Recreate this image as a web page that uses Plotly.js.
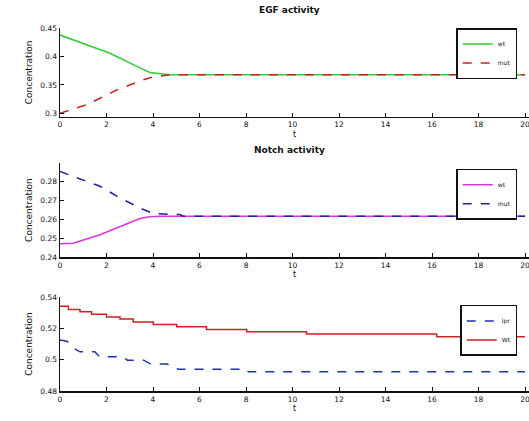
<!DOCTYPE html>
<html><head><meta charset="utf-8">
<script src="https://cdn.plot.ly/plotly-3.0.1.min.js"></script>
<style>html,body{margin:0;padding:0;background:#fff}#c{width:529px;height:421px}</style>
</head><body><div id="c"></div>
<script>
// Panel 1: EGF activity
const egfWtX  = [0, 1.0, 2.15, 3.44, 3.87, 4.73, 20];
const egfWtY  = [0.438, 0.423, 0.406, 0.380, 0.372, 0.368, 0.368];
const egfMutX = [0, 1.15, 2.44, 3.58, 4.01, 4.73, 20];
const egfMutY = [0.300, 0.315, 0.341, 0.359, 0.364, 0.368, 0.368];
// Panel 2: Notch activity
const notchWtX  = [0, 0.57, 1.72, 2.58, 3.44, 3.87, 4.3, 20];
const notchWtY  = [0.2470, 0.2473, 0.2518, 0.2559, 0.2604, 0.2614, 0.2616, 0.2616];
const notchMutX = [0, 0.86, 1.72, 2.58, 3.44, 4.01, 5.16, 5.3, 20];
const notchMutY = [0.2853, 0.2815, 0.2775, 0.2713, 0.2660, 0.2630, 0.2625, 0.2616, 0.2616];
// Panel 3
const p3RedX = [0, 0.36, 0.36, 0.86, 0.86, 1.36, 1.36, 2.0, 2.0, 2.58, 2.58, 3.15, 3.15, 4.01, 4.01, 5.02, 5.02, 6.3, 6.3, 8.03, 8.03, 10.6, 10.6, 16.2, 16.2, 20];
const p3RedY = [0.5341, 0.5341, 0.5320, 0.5320, 0.5305, 0.5305, 0.5290, 0.5290, 0.5273, 0.5273, 0.5259, 0.5259, 0.5241, 0.5241, 0.5225, 0.5225, 0.5210, 0.5210, 0.5193, 0.5193, 0.5178, 0.5178, 0.5163, 0.5163, 0.5146, 0.5146];
const p3BlueX = [0, 0.3, 0.6, 0.86, 1.5, 1.7, 2.7, 2.9, 3.6, 3.9, 4.6, 5.1, 8.03, 8.1, 20];
const p3BlueY = [0.5125, 0.5118, 0.5072, 0.5050, 0.5050, 0.5018, 0.5018, 0.4997, 0.4997, 0.4972, 0.4972, 0.4938, 0.4938, 0.4923, 0.4923];

const names1 = ['wt', 'mut'];
const names2 = ['wt', 'mut'];
const names3 = ['lpr', 'Wt'];
const titles = ['EGF activity', 'Notch activity'];
const xTicks = [0, 2, 4, 6, 8, 10, 12, 14, 16, 18, 20];

const traces = [
  {x: egfWtX, y: egfWtY, name: names1[0], xaxis: 'x', yaxis: 'y', legend: 'legend', line: {color: '#33cc33', width: 1.5}},
  {x: egfMutX, y: egfMutY, name: names1[1], xaxis: 'x', yaxis: 'y', legend: 'legend', line: {color: '#cc2222', width: 1.5, dash: 'dash'}},
  {x: notchWtX, y: notchWtY, name: names2[0], xaxis: 'x2', yaxis: 'y2', legend: 'legend2', line: {color: '#dd33dd', width: 1.5}},
  {x: notchMutX, y: notchMutY, name: names2[1], xaxis: 'x2', yaxis: 'y2', legend: 'legend2', line: {color: '#222299', width: 1.5, dash: 'dash'}},
  {x: p3BlueX, y: p3BlueY, name: names3[0], xaxis: 'x3', yaxis: 'y3', legend: 'legend3', line: {color: '#2233aa', width: 1.5, dash: 'dash'}},
  {x: p3RedX, y: p3RedY, name: names3[1], xaxis: 'x3', yaxis: 'y3', legend: 'legend3', line: {color: '#cc2222', width: 1.5}}
];
traces.forEach(t => { t.mode = 'lines'; t.type = 'scatter'; });

const tickFont = {family: 'DejaVu Sans', size: 7.5, color: '#111'};
function xa(anchor, withTitle) {
  return {anchor: anchor, range: [0, 20.17], tickvals: xTicks, ticktext: xTicks.map(String),
    showline: true, linecolor: '#111', linewidth: 1.5, ticks: 'inside', ticklen: 4, tickcolor: '#111',
    showgrid: false, zeroline: false, tickfont: tickFont, ticklabeloverflow: 'allow',
    title: withTitle ? {text: 't', font: {family: 'DejaVu Sans', size: 8, color: '#111'}, standoff: 3} : {text: ''}};
}
function ya(anchor, domain, range, tickvals) {
  return {anchor: anchor, domain: domain, range: range, tickvals: tickvals, ticktext: tickvals.map(v => String(v)),
    showline: true, linecolor: '#111', linewidth: 1.5, ticks: 'inside', ticklen: 4, tickcolor: '#111',
    showgrid: false, zeroline: false, tickfont: tickFont,
    title: {text: 'Concentration', font: {family: 'DejaVu Sans', size: 9, color: '#111'}, standoff: 6}};
}
const legStyle = (y) => ({x: 0.975, y: y, xanchor: 'right', yanchor: 'top', bordercolor: '#111', borderwidth: 1.5,
  bgcolor: '#fff', font: {family: 'DejaVu Sans', size: 6, color: '#111'}, tracegroupgap: 0});

const layout = {
  width: 529, height: 421, paper_bgcolor: '#fff', plot_bgcolor: '#fff',
  margin: {l: 60, r: 0, t: 28, b: 30},
  showlegend: true,
  xaxis: xa('y', true),
  yaxis: ya('x', [0.755, 1], [0.2935, 0.4505], [0.3, 0.35, 0.4, 0.45]),
  xaxis2: xa('y2', true),
  yaxis2: ya('x2', [0.369, 0.628], [0.24, 0.2898], [0.24, 0.25, 0.26, 0.27, 0.28]),
  xaxis3: xa('y3', true),
  yaxis3: ya('x3', [0, 0.259], [0.48, 0.54], [0.48, 0.5, 0.52, 0.54]),
  legend: legStyle(1.0),
  legend2: legStyle(0.612),
  legend3: legStyle(0.237),
  annotations: [
    {text: '<b>' + titles[0] + '</b>', xref: 'paper', yref: 'paper', x: 0.49, y: 1.03, yanchor: 'bottom', showarrow: false, font: {family: 'DejaVu Sans', size: 9, color: '#111'}},
    {text: '<b>' + titles[1] + '</b>', xref: 'paper', yref: 'paper', x: 0.49, y: 0.645, yanchor: 'bottom', showarrow: false, font: {family: 'DejaVu Sans', size: 9, color: '#111'}}
  ]
};
Plotly.newPlot('c', traces, layout, {displayModeBar: false, staticPlot: true});
</script></body></html>
